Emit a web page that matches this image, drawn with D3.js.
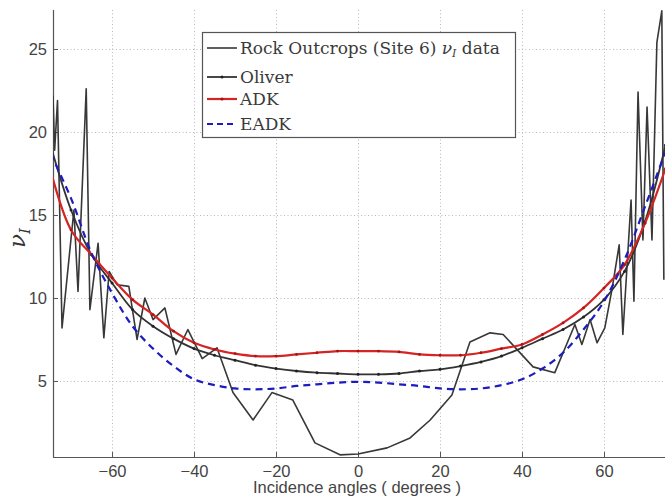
<!DOCTYPE html>
<html>
<head>
<meta charset="utf-8">
<script src="https://cdn.jsdelivr.net/npm/d3@7"></script>
<style>
  html, body { margin: 0; padding: 0; background: #fff; }
  svg { display: block; }
</style>
</head>
<body>
<svg id="chart" width="665" height="498"></svg>
<script>
// ---------- data ----------
const rockAngles = [-74.4, -74.0, -73.3, -72.2, -69.3, -68.3, -66.3, -65.4, -63.4, -62.0, -60.7, -58.8, -55.9, -53.9, -52.0, -50.0, -47.1, -44.4, -41.5, -38.0, -34.4, -30.5, -25.6, -21.0, -15.9, -10.5, -4.4, 0.0, 7.1, 12.7, 17.6, 22.9, 27.3, 32.2, 35.4, 42.7, 48.0, 52.9, 54.6, 56.6, 58.3, 60.2, 62.0, 63.7, 64.6, 66.6, 67.3, 68.3, 69.5, 70.5, 71.7, 72.9, 74.1, 74.6];
const rockValues = [22.2, 18.9, 21.9, 8.2, 15.3, 10.4, 22.6, 9.3, 13.3, 7.6, 11.6, 10.8, 10.7, 7.5, 10.0, 8.7, 9.4, 6.6, 8.1, 6.35, 7.0, 4.3, 2.65, 4.3, 3.85, 1.27, 0.55, 0.6, 0.97, 1.57, 2.65, 4.16, 7.35, 7.9, 7.8, 5.85, 5.5, 8.4, 7.2, 8.7, 7.3, 8.2, 10.6, 13.2, 7.8, 15.9, 9.8, 22.4, 13.5, 21.5, 13.5, 25.4, 27.3, 11.1];

const modelAngles = [-75, -70, -65, -60, -55, -50, -45, -40, -35, -30, -25, -20, -15, -10, -5, 0, 5, 10, 15, 20, 25, 30, 35, 40, 45, 50, 55, 60, 65, 70, 75];
const oliverValues = [19.2, 15.3, 12.6, 10.9, 9.3, 8.3, 7.55, 6.95, 6.55, 6.25, 5.95, 5.75, 5.6, 5.5, 5.45, 5.4, 5.4, 5.45, 5.6, 5.7, 5.9, 6.15, 6.5, 7.0, 7.55, 8.1, 8.85, 9.9, 11.6, 14.6, 19.2];
const adkValues = [17.7, 14.1, 12.6, 11.2, 9.9, 9.0, 8.0, 7.3, 6.9, 6.65, 6.5, 6.5, 6.6, 6.7, 6.8, 6.8, 6.8, 6.75, 6.6, 6.55, 6.55, 6.7, 6.95, 7.2, 7.8, 8.5, 9.4, 10.6, 12.0, 14.5, 17.8];
const eadkValues = [18.7, 16.0, 12.7, 10.3, 8.3, 6.95, 5.9, 5.1, 4.75, 4.55, 4.5, 4.55, 4.7, 4.8, 4.9, 4.95, 4.9, 4.8, 4.7, 4.55, 4.5, 4.55, 4.75, 5.1, 5.75, 6.7, 8.1, 9.8, 12.3, 15.5, 18.8];

const xTicks = [-60, -40, -20, 0, 20, 40, 60];
const yTicks = [5, 10, 15, 20, 25];
const legendLabels = ["Rock Outcrops (Site 6)", "Oliver", "ADK", "EADK"];
const xLabel = "Incidence angles ( degrees )";

// ---------- layout ----------
const svg = d3.select("#chart");
const pL = 53, pR = 665.5, pT = 10, pB = 457;
const x = d3.scaleLinear().domain([-74.4, 75]).range([pL, pR]);
const y = d3.scaleLinear().domain([0.42, 27.35]).range([pB, pT]);

svg.append("rect").attr("width", 665).attr("height", 498).attr("fill", "#fff");

// grid
const grid = svg.append("g").attr("stroke", "#b8b8b8").attr("stroke-width", 1).attr("stroke-dasharray", "1,2.5");
grid.selectAll("line.v").data(xTicks).join("line").attr("class", "v")
  .attr("x1", d => Math.round(x(d)) + 0.5).attr("x2", d => Math.round(x(d)) + 0.5)
  .attr("y1", pT).attr("y2", pB);
grid.selectAll("line.h").data(yTicks).join("line").attr("class", "h")
  .attr("y1", d => Math.round(y(d)) + 0.5).attr("y2", d => Math.round(y(d)) + 0.5)
  .attr("x1", pL).attr("x2", 665);

// axes
const fontSans = "'Liberation Sans', Arial, Helvetica, sans-serif";
const xAxis = svg.append("g").attr("transform", `translate(0,${pB})`)
  .call(d3.axisBottom(x).tickValues(xTicks).tickSizeInner(-5).tickSizeOuter(0).tickPadding(8)
    .tickFormat(d => d < 0 ? "\u2212" + Math.abs(d) : d));
const yAxis = svg.append("g").attr("transform", `translate(${pL},0)`)
  .call(d3.axisLeft(y).tickValues(yTicks).tickSizeInner(-5).tickSizeOuter(0).tickPadding(6));
[xAxis, yAxis].forEach(g => {
  g.select(".domain").attr("stroke", "#555").attr("stroke-width", 1.2);
  g.selectAll(".tick line").attr("stroke", "#555");
  g.selectAll(".tick text").attr("fill", "#444").style("font-family", fontSans).style("font-size", "16.5px");
});
xAxis.select(".domain").attr("d", `M${pL},0.5H665`);
yAxis.select(".domain").attr("d", `M0.5,${pT}V${pB}`);

// clip
svg.append("clipPath").attr("id", "clip").append("rect")
  .attr("x", pL).attr("y", pT).attr("width", 665 - pL).attr("height", pB - pT);
const plot = svg.append("g").attr("clip-path", "url(#clip)");

const lineLin = d3.line().x(d => x(d[0])).y(d => y(d[1]));
const lineSmooth = d3.line().x(d => x(d[0])).y(d => y(d[1])).curve(d3.curveCatmullRom.alpha(0.5));

const rock = rockAngles.map((a, i) => [a, rockValues[i]]);
const oliver = modelAngles.map((a, i) => [a, oliverValues[i]]);
const adk = modelAngles.map((a, i) => [a, adkValues[i]]);
const eadk = modelAngles.map((a, i) => [a, eadkValues[i]]);

plot.append("path").datum(rock).attr("d", lineLin)
  .attr("fill", "none").attr("stroke", "#383838").attr("stroke-width", 1.6).attr("stroke-linejoin", "round");

plot.append("path").datum(oliver).attr("d", lineSmooth)
  .attr("fill", "none").attr("stroke", "#333").attr("stroke-width", 1.8);
plot.selectAll("circle.ol").data(oliver).join("circle").attr("class", "ol")
  .attr("cx", d => x(d[0])).attr("cy", d => y(d[1])).attr("r", 1.5).attr("fill", "#222");

plot.append("path").datum(adk).attr("d", lineSmooth)
  .attr("fill", "none").attr("stroke", "#d42424").attr("stroke-width", 2.2);
plot.selectAll("circle.adk").data(adk).join("circle").attr("class", "adk")
  .attr("cx", d => x(d[0])).attr("cy", d => y(d[1])).attr("r", 1.4).attr("fill", "#a01515");

plot.append("path").datum(eadk).attr("d", lineSmooth)
  .attr("fill", "none").attr("stroke", "#1c1cc0").attr("stroke-width", 2.2).attr("stroke-dasharray", "7,5");

// legend
const fontSerif = "'DejaVu Serif', 'Liberation Serif', serif";
const lg = svg.append("g");
lg.append("rect").attr("x", 202.5).attr("y", 32.5).attr("width", 313).attr("height", 105)
  .attr("fill", "#fff").attr("stroke", "#555").attr("stroke-width", 1.2);
const rowsY = [48, 77, 99, 124];
const styles = [
  {c: "#383838", w: 1.6, dash: null, dot: false},
  {c: "#333", w: 1.8, dash: null, dot: true, dc: "#222"},
  {c: "#d42424", w: 2.2, dash: null, dot: true, dc: "#a01515"},
  {c: "#1c1cc0", w: 2.2, dash: "6,4", dot: false}
];
legendLabels.forEach((lab, i) => {
  const s = styles[i], yy = rowsY[i];
  lg.append("line").attr("x1", 207).attr("x2", 237).attr("y1", yy).attr("y2", yy)
    .attr("stroke", s.c).attr("stroke-width", s.w).attr("stroke-dasharray", s.dash);
  if (s.dot) lg.append("circle").attr("cx", 222).attr("cy", yy).attr("r", 1.5).attr("fill", s.dc);
  const t = lg.append("text").attr("x", 240).attr("y", yy + 6)
    .style("font-family", fontSerif).style("font-size", "17px").attr("fill", "#3a3a3a");
  t.append("tspan").text(lab);
  if (i === 0) {
    t.append("tspan").text(" \u03BD").style("font-style", "italic");
    t.append("tspan").text("I").style("font-style", "italic").style("font-size", "11px").attr("dy", 3);
    t.append("tspan").text(" data").attr("dy", -3);
  }
});

// axis labels
svg.append("text").attr("x", 357).attr("y", 493).attr("text-anchor", "middle")
  .style("font-family", fontSans).style("font-size", "16.5px").attr("fill", "#444").text(xLabel);

const yl = svg.append("text").attr("transform", "translate(25,238) rotate(-90)").attr("text-anchor", "middle")
  .style("font-family", fontSerif).attr("fill", "#333");
yl.append("tspan").text("\u03BD").style("font-style", "italic").style("font-size", "23px");
yl.append("tspan").text("I").style("font-style", "italic").style("font-size", "15px").attr("dy", 5);
</script>
</body>
</html>
